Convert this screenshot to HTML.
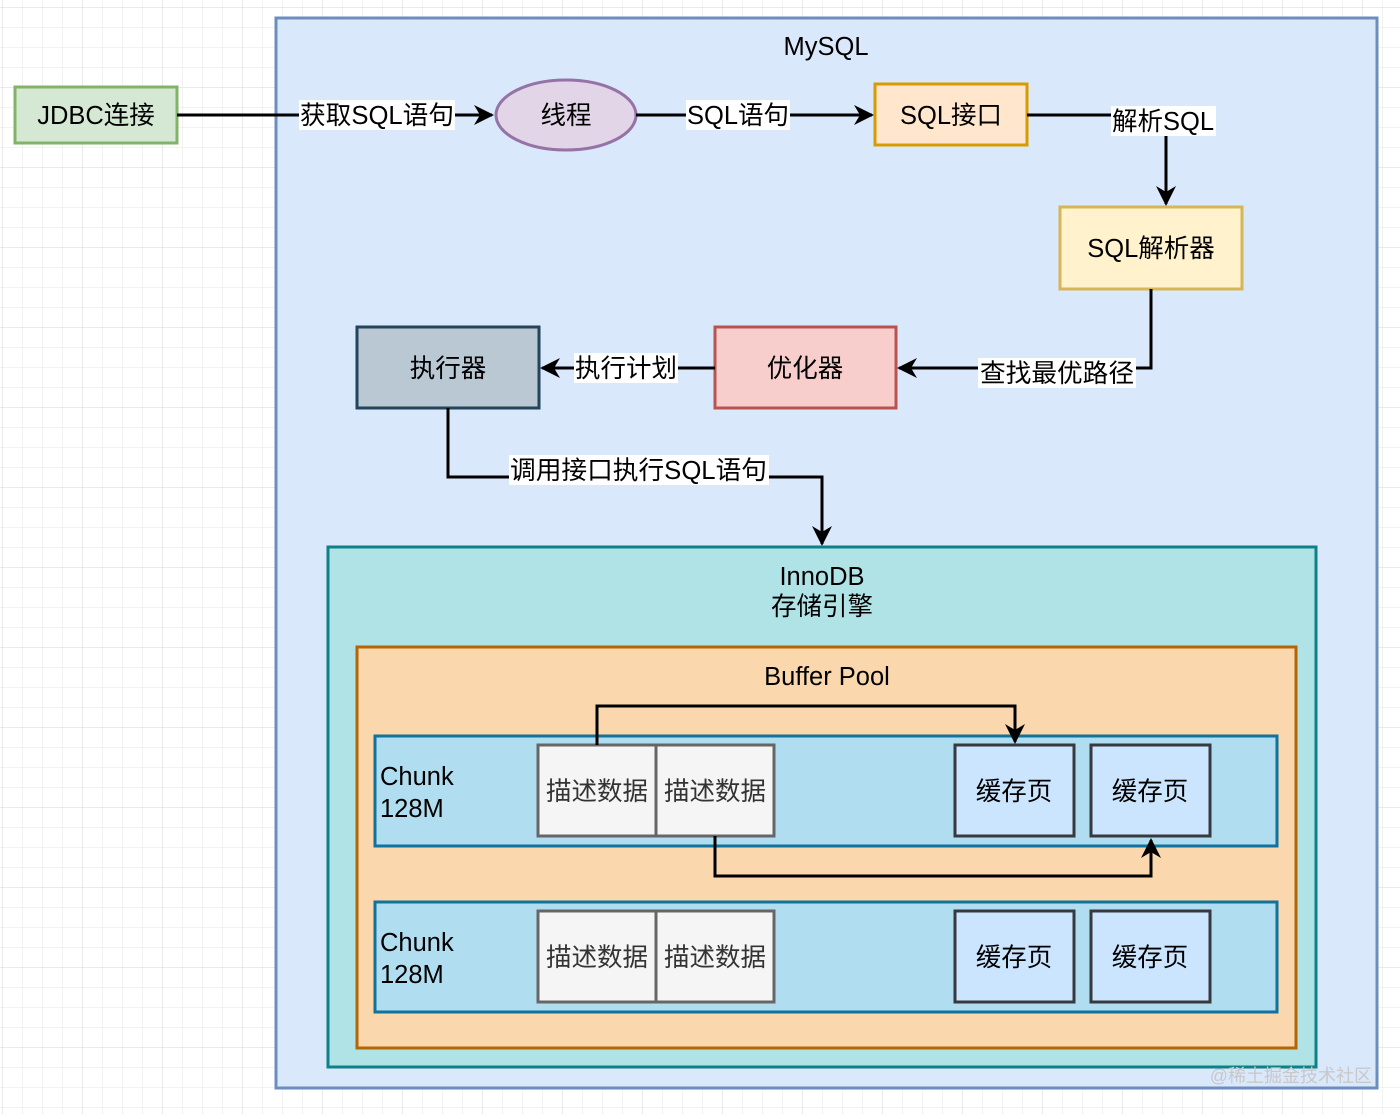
<!DOCTYPE html>
<html><head><meta charset="utf-8"><style>
body{margin:0;width:1400px;height:1114px;overflow:hidden;background:#fff}
text{font-family:"Liberation Sans","Noto Sans CJK SC",sans-serif;fill:#000}
</style></head><body>
<svg width="1400" height="1114" viewBox="0 0 1400 1114" xmlns="http://www.w3.org/2000/svg">
<defs>
<pattern id="g" width="20" height="20" patternUnits="userSpaceOnUse" x="3" y="8"><path d="M20 0V20M0 20H20" fill="none" stroke="#e6e6e6" stroke-width="1"/></pattern>
<pattern id="G" width="80" height="80" patternUnits="userSpaceOnUse" x="3" y="8"><path d="M80 0V80M0 80H80" fill="none" stroke="#d6d6d6" stroke-width="1"/></pattern>
<marker id="b" markerWidth="20" markerHeight="20" refX="18" refY="10" orient="auto" markerUnits="userSpaceOnUse"><path d="M0,0 L20,10 L0,20 L6,10 Z" fill="#000"/></marker>
</defs>
<rect width="1400" height="1114" fill="url(#g)"/>
<rect width="1400" height="1114" fill="url(#G)"/>
<rect x="276" y="18" width="1101" height="1070" fill="#dae8fc" stroke="#6c8ebf" stroke-width="3"/>
<g font-size="25.5">
<text x="826" y="55" text-anchor="middle">MySQL</text>
<rect x="15" y="87" width="162" height="56" fill="#d5e8d4" stroke="#82b366" stroke-width="3"/>
<text x="96" y="124" text-anchor="middle">JDBC连接</text>
<ellipse cx="566" cy="115" rx="70" ry="35" fill="#e1d5e7" stroke="#9673a6" stroke-width="3"/>
<text x="566" y="124" text-anchor="middle">线程</text>
<rect x="875" y="84" width="152" height="61" fill="#ffe6cc" stroke="#d79b00" stroke-width="3"/>
<text x="951" y="124" text-anchor="middle">SQL接口</text>
<rect x="1060" y="207" width="182" height="82" fill="#fff2cc" stroke="#d6b656" stroke-width="3"/>
<text x="1151" y="257" text-anchor="middle">SQL解析器</text>
<rect x="715" y="327" width="181" height="81" fill="#f8cecc" stroke="#b85450" stroke-width="3"/>
<text x="805" y="377" text-anchor="middle">优化器</text>
<rect x="357" y="327" width="182" height="81" fill="#bac8d3" stroke="#23445d" stroke-width="3"/>
<text x="448" y="377" text-anchor="middle">执行器</text>
</g>
<g fill="none" stroke="#000" stroke-width="3">
<path d="M177 115H492" marker-end="url(#b)"/>
<path d="M636 115H872" marker-end="url(#b)"/>
<path d="M1027 115H1166V204" marker-end="url(#b)"/>
<path d="M1151 289V368H899" marker-end="url(#b)"/>
<path d="M715 368H542" marker-end="url(#b)"/>
<path d="M448 408V477H822V544" marker-end="url(#b)"/>
</g>
<g font-size="25.5">
<rect x="299" y="100" width="156" height="30" fill="#fff"/><text x="300" y="124" textLength="154" lengthAdjust="spacingAndGlyphs">获取SQL语句</text>
<rect x="686" y="100" width="104" height="30" fill="#fff"/><text x="687" y="124" textLength="102" lengthAdjust="spacingAndGlyphs">SQL语句</text>
<rect x="1111" y="106" width="105" height="30" fill="#fff"/><text x="1112" y="130" textLength="102" lengthAdjust="spacingAndGlyphs">解析SQL</text>
<rect x="978" y="358" width="158" height="30" fill="#fff"/><text x="980" y="382" textLength="154" lengthAdjust="spacingAndGlyphs">查找最优路径</text>
<rect x="574" y="353" width="104" height="30" fill="#fff"/><text x="575" y="377" textLength="102" lengthAdjust="spacingAndGlyphs">执行计划</text>
<rect x="509" y="455" width="260" height="30" fill="#fff"/><text x="510" y="479" textLength="257" lengthAdjust="spacingAndGlyphs">调用接口执行SQL语句</text>
</g>
<rect x="328" y="547" width="988" height="520" fill="#b0e3e6" stroke="#0e8088" stroke-width="3"/>
<g font-size="25.5">
<text x="822" y="585" text-anchor="middle">InnoDB</text>
<text x="822" y="615" text-anchor="middle">存储引擎</text>
</g>
<rect x="357" y="647" width="939" height="401" fill="#fad7ac" stroke="#b46504" stroke-width="3"/>
<text x="827" y="685" font-size="25.5" text-anchor="middle">Buffer Pool</text>
<g id="c1" font-size="25.5">
<rect x="375" y="736" width="902" height="110" fill="#b1ddf0" stroke="#10739e" stroke-width="3"/>
<text x="380" y="785">Chunk</text><text x="380" y="817">128M</text>
<rect x="538" y="745" width="118" height="91" fill="#f5f5f5" stroke="#666" stroke-width="3"/>
<rect x="656" y="745" width="118" height="91" fill="#f5f5f5" stroke="#666" stroke-width="3"/>
<text x="597" y="800" text-anchor="middle" style="fill:#333">描述数据</text>
<text x="715" y="800" text-anchor="middle" style="fill:#333">描述数据</text>
<rect x="955" y="745" width="119" height="91" fill="#cce5ff" stroke="#36393d" stroke-width="3"/>
<rect x="1091" y="745" width="119" height="91" fill="#cce5ff" stroke="#36393d" stroke-width="3"/>
<text x="1014" y="800" text-anchor="middle">缓存页</text>
<text x="1150" y="800" text-anchor="middle">缓存页</text>
</g>
<use href="#c1" y="166"/>
<g fill="none" stroke="#000" stroke-width="3">
<path d="M597 745V706H1015V742" marker-end="url(#b)"/>
<path d="M715 836V876H1151V840" marker-end="url(#b)"/>
</g>
<text x="1372" y="1082" font-size="18" text-anchor="end" style="fill:#c8c8c8">@稀土掘金技术社区</text>
</svg>
</body></html>
